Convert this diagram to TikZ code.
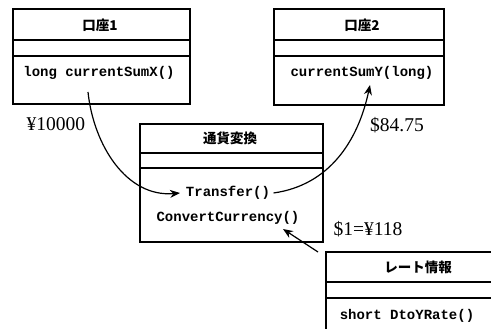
\documentclass[tikz,border=0pt]{standalone}
\usepackage{fontspec}
\setmainfont{Liberation Serif}
\setmonofont{Liberation Mono}
\newfontfamily\jpfont{Noto Sans CJK JP}
\usetikzlibrary{arrows.meta,%
                petri}

\begin{document}
\begin{tikzpicture}[x=1pt,y=-1pt]
		\tikzstyle{ClassBox}=[draw,line width=1.3pt]
		\tikzstyle{SepLine}=[line width=1.1pt]
		\tikzstyle{TitleStyle}=[font=\jpfont\bfseries\fontsize{13.5}{13.5}\selectfont]
		\tikzstyle{MethodStyle}=[font=\ttfamily\bfseries\fontsize{14}{14}\selectfont]
		\tikzstyle{ValueStyle}=[font=\fontsize{19.5}{19.5}\selectfont]
		\tikzstyle{EdgeStyle}=[post,line width=1.2pt,shorten >=0pt,>={Stealth[length=10pt,width=8pt]}]
		\clip (0,0) rectangle (491,329);
		\useasboundingbox (0,0) rectangle (491,329);
		% 口座1
		\draw[ClassBox] (13,9) rectangle (190,104);
		\draw[SepLine] (13,40) -- (190,40) (13,56) -- (190,56);
		\node[TitleStyle] (acc1) at (100,25) {口座1};
		\node[MethodStyle] (sumX) at (99,73) {long currentSumX()};
		% 口座2
		\draw[ClassBox] (274,9) rectangle (444,105);
		\draw[SepLine] (274,40) -- (444,40) (274,56) -- (444,56);
		\node[TitleStyle] (acc2) at (362,25) {口座2};
		\node[MethodStyle] (sumY) at (362,73) {currentSumY(long)};
		% 通貨変換
		\draw[ClassBox] (140,124) rectangle (323,242);
		\draw[SepLine] (140,153) -- (323,153) (140,168) -- (323,168);
		\node[TitleStyle] (conv) at (230,138) {通貨変換};
		\node[MethodStyle] (transfer) at (228,193) {Transfer()};
		\node[MethodStyle] (convert) at (228,218) {ConvertCurrency()};
		% レート情報
		\draw[ClassBox] (326,252) rectangle (500,340);
		\draw[SepLine] (326,282) -- (500,282) (326,298) -- (500,298);
		\node[TitleStyle] (rate) at (418,267) {レート情報};
		\node[MethodStyle] (dtoy) at (407,316) {short DtoYRate()};
		% values
		\node[ValueStyle] (yen) at (56,124) {¥10000};
		\node[ValueStyle] (usd) at (397,125) {\$84.75};
		\node[ValueStyle] (ratio) at (368,229) {\$1=¥118};
		% calls
		\coordinate (x0) at (88,92);
		\coordinate (t0) at (180,193);
		\coordinate (y1) at (370,85);
		\coordinate (r0) at (318,252);
		\coordinate (c1) at (283,229);
		\draw[EdgeStyle] (x0) to[out=-84,in=185] (t0);
		\draw[EdgeStyle] (transfer.east) to[out=8,in=-102] (y1);
		\draw[EdgeStyle] (r0) -- (c1);
\end{tikzpicture}
\end{document}
